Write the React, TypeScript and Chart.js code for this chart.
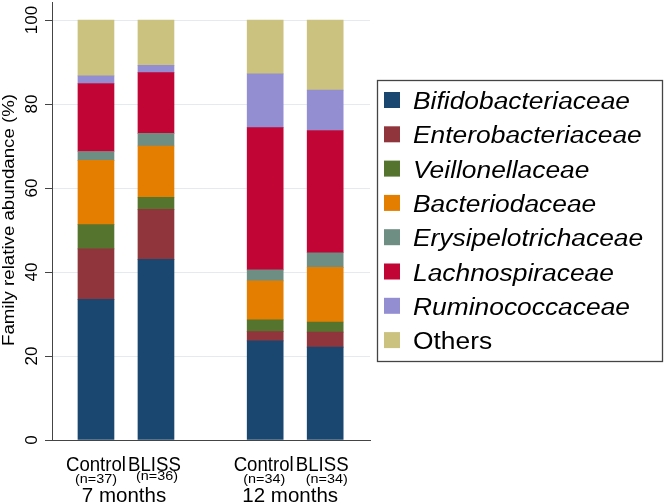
import React, { useEffect, useRef } from "react";
import { Chart, registerables } from "chart.js";

Chart.register(...registerables);

const arms = ["Control", "BLISS", "Control", "BLISS"];
const nLabels = ["(n=37)", "(n=36)", "(n=34)", "(n=34)"];
const groups = ["7 months", "12 months"];
const slots = [1, 2, 3.82, 4.82];

const families = [
  "Bifidobacteriaceae",
  "Enterobacteriaceae",
  "Veillonellaceae",
  "Bacteriodaceae",
  "Erysipelotrichaceae",
  "Lachnospiraceae",
  "Ruminococcaceae",
  "Others",
];
const italicNames = [true, true, true, true, true, true, true, false];
const colors = [
  "#1a476f",
  "#90353b",
  "#55752f",
  "#e37e00",
  "#6e8e84",
  "#c10534",
  "#938dd2",
  "#cac27e",
];

const bifido = [33.5, 43.0, 23.6, 22.1];
const entero = [12.0, 11.9, 2.2, 3.6];
const veillon = [5.8, 2.9, 2.8, 2.4];
const bacterio = [15.3, 12.2, 9.3, 13.0];
const erysip = [2.1, 3.0, 2.6, 3.5];
const lachno = [16.2, 14.5, 33.9, 29.1];
const rumino = [1.8, 1.7, 12.8, 9.6];
const others = [13.3, 10.8, 12.8, 16.7];
const seriesValues = [bifido, entero, veillon, bacterio, erysip, lachno, rumino, others];

const yTicks = [0, 20, 40, 60, 80, 100];
const yTitle = "Family relative abundance (%)";

const FONT = "'Liberation Sans', Arial, Helvetica, sans-serif";

function stretchText(ctx: CanvasRenderingContext2D, text: string, x: number, y: number, sx: number) {
  ctx.save();
  ctx.translate(x, y);
  ctx.scale(sx, 1);
  ctx.fillText(text, 0, 0);
  ctx.restore();
}

const labelsPlugin = {
  id: "customLabels",
  afterDraw(chart: any) {
    const ctx: CanvasRenderingContext2D = chart.ctx;
    const xs = chart.scales.x;
    const ys = chart.scales.y;
    ctx.save();
    ctx.fillStyle = "#000";

    // y tick labels (rotated)
    ctx.font = `17px ${FONT}`;
    ctx.textAlign = "center";
    ctx.textBaseline = "middle";
    yTicks.forEach((t) => {
      const py = ys.getPixelForValue(t);
      ctx.save();
      ctx.translate(32, py);
      ctx.rotate(-Math.PI / 2);
      ctx.fillText(String(t), 0, 0);
      ctx.restore();
    });

    // y title
    ctx.font = `16px ${FONT}`;
    const tsx = 252 / ctx.measureText(yTitle).width;
    ctx.save();
    ctx.translate(10, 220);
    ctx.rotate(-Math.PI / 2);
    stretchText(ctx, yTitle, 0, 0, tsx);
    ctx.restore();

    // x labels
    ctx.textBaseline = "alphabetic";
    ctx.textAlign = "center";
    ctx.font = `20px ${FONT}`;
    const asx = 60 / ctx.measureText("Control").width;
    ctx.font = `13px ${FONT}`;
    const nsx = 42 / ctx.measureText("(n=37)").width;
    const armShift = [0, -1.5, -1.5, -3];
    const nShift = [0, 1, -1, 1.5];
    const nBase = [483, 480, 482.5, 482.5];
    slots.forEach((s, i) => {
      const px = xs.getPixelForValue(s);
      ctx.font = `20px ${FONT}`;
      stretchText(ctx, arms[i], px + armShift[i], 470.5, asx);
      ctx.font = `13px ${FONT}`;
      stretchText(ctx, nLabels[i], px + nShift[i], nBase[i], nsx);
    });
    const gShift = [-2, -5];
    groups.forEach((g, gi) => {
      const px = (xs.getPixelForValue(slots[gi * 2]) + xs.getPixelForValue(slots[gi * 2 + 1])) / 2;
      ctx.font = `20.5px ${FONT}`;
      ctx.fillText(g, px + gShift[gi], 502);
    });

    // legend
    ctx.strokeStyle = "#444";
    ctx.lineWidth = 1.3;
    ctx.strokeRect(377.5, 80.5, 285, 281);
    ctx.textAlign = "left";
    ctx.textBaseline = "alphabetic";
    ctx.font = `italic 23px ${FONT}`;
    const lsx = 217 / ctx.measureText(families[0]).width;
    families.forEach((f, i) => {
      const cy = 100 + 34.3 * i;
      ctx.fillStyle = colors[i];
      ctx.fillRect(384, cy - 8, 16, 16);
      ctx.fillStyle = "#000";
      ctx.font = `${italicNames[i] ? "italic " : ""}23px ${FONT}`;
      stretchText(ctx, f, 413, cy + 9, lsx);
    });
    ctx.restore();
  },
};

export default function App() {
  const ref = useRef<HTMLCanvasElement | null>(null);
  useEffect(() => {
    if (!ref.current) return;
    const chart = new Chart(ref.current, {
      type: "bar",
      data: {
        datasets: families.map((f, i) => ({
          label: f,
          data: slots.map((s, j) => ({ x: s, y: seriesValues[i][j] })),
          backgroundColor: colors[i],
          borderWidth: 0,
          barThickness: 36,
        })),
      },
      options: {
        animation: false,
        responsive: false,
        layout: { padding: { left: 0, top: 2, right: 296, bottom: 0 } },
        plugins: { legend: { display: false }, tooltip: { enabled: false } },
        scales: {
          x: {
            type: "linear",
            stacked: true,
            offset: false,
            min: 0.267,
            max: 5.567,
            grid: { display: false, drawTicks: false },
            border: { display: true, color: "#444", width: 1 },
            ticks: { display: false },
            afterFit: (s: any) => {
              s.height = 63;
            },
          },
          y: {
            stacked: true,
            min: 0,
            max: 104.3,
            afterBuildTicks: (s: any) => {
              s.ticks = yTicks.map((v) => ({ value: v }));
            },
            grid: {
              color: "#e4ebee",
              lineWidth: 1,
              drawTicks: true,
              tickLength: 7,
              tickColor: "#444",
            },
            border: { display: true, color: "#444", width: 1 },
            ticks: { display: false },
            afterFit: (s: any) => {
              s.width = 52;
            },
          },
        },
      },
      plugins: [labelsPlugin],
    } as any);
    return () => chart.destroy();
  }, []);
  return (
    <div style={{ position: "absolute", left: 0, top: 0, width: 666, height: 503, background: "#fff" }}>
      <canvas ref={ref} width={666} height={503} />
    </div>
  );
}
